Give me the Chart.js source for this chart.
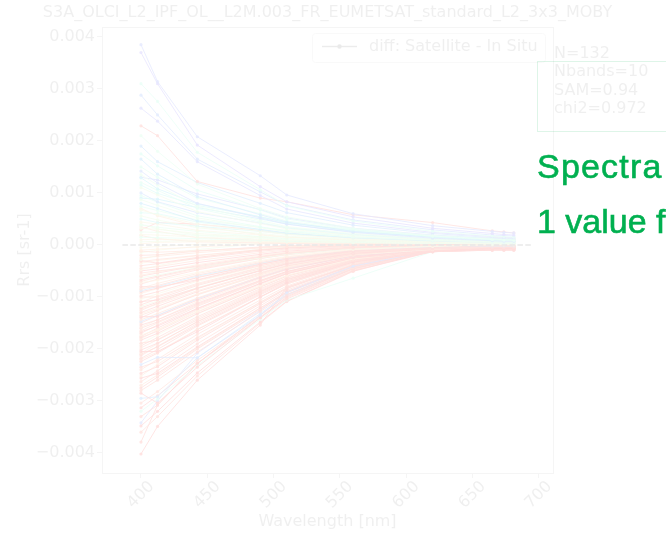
<!DOCTYPE html>
<html>
<head>
<meta charset="utf-8">
<script src="https://cdn.jsdelivr.net/npm/chart.js@4/dist/chart.umd.min.js"></script>
<style>
  html, body { margin: 0; padding: 0; background: #ffffff; }
  #wrap { position: relative; width: 666px; height: 538px; overflow: hidden; }
  /* the plot sits faded behind the slide text */
  #plot { position: absolute; left: 0; top: 0; width: 666px; height: 538px; opacity: 0.135; }
  .note { position: absolute; left: 537px; font-family: "Liberation Sans", Arial, sans-serif;
          font-size: 34px; line-height: 38px; color: #00b050; white-space: nowrap;
          -webkit-text-stroke: 0.6px #00b050; }
  #statsFrame { position: absolute; left: 537px; top: 61px; width: 160px; height: 69px;
                border: 1.5px solid rgba(0, 176, 80, 0.13); }
</style>
</head>
<body>
<div id="wrap">
  <div id="plot"><canvas id="chart"></canvas></div>
  <div id="statsFrame"></div>
  <div class="note" style="top:147px; letter-spacing:1.2px">Spectra</div>
  <div class="note" style="top:202px; letter-spacing:0px">1 value f</div>
</div>
<script>
// OLCI band centres used for the match-up spectra (nm)
const bandsNm = [400, 412.5, 442.5, 490, 510, 560, 620, 665, 673.75, 681.25];

// Satellite minus in-situ Rrs, in units of 1e-4 sr-1, spectra that start above zero
const rrsDiffHigh = [
  [38.5, 31.4, 20.8, 13.3, 9.6, 6.0, 3.7, 2.6, 2.4, 2.3],
  [37.0, 31.0, 19.2, 11.2, 8.3, 5.4, 3.2, 2.2, 2.0, 1.9],
  [31.0, 27.6, 17.8, 10.6, 7.5, 4.6, 2.6, 1.7, 1.6, 1.5],
  [28.8, 25.0, 16.5, 10.2, 7.6, 4.8, 2.9, 1.9, 1.8, 1.7],
  [26.3, 23.8, 16.0, 9.5, 6.9, 4.2, 2.4, 1.6, 1.5, 1.4],
  [22.9, 21.0, 12.2, 9.0, 8.3, 5.8, 4.3, 2.7, 2.5, 2.3],
  [21.0, 18.0, 11.7, 7.0, 5.4, 3.2, 1.8, 1.1, 1.0, 0.9],
  [19.0, 16.0, 12.0, 8.0, 6.2, 3.8, 2.2, 1.4, 1.3, 1.2],
  [17.5, 15.2, 10.5, 6.7, 5.0, 3.0, 1.6, 1.0, 0.9, 0.9],
  [16.5, 13.6, 9.3, 5.8, 4.4, 2.6, 1.5, 0.9, 0.9, 0.8],
  [15.0, 13.0, 9.0, 6.0, 4.6, 2.8, 1.6, 1.0, 0.9, 0.9],
  [14.2, 11.9, 8.0, 5.2, 4.0, 2.4, 1.3, 0.8, 0.7, 0.7],
  [13.5, 11.5, 7.4, 4.7, 3.5, 2.2, 1.2, 0.8, 0.7, 0.7],
  [12.9, 10.8, 7.9, 5.4, 4.3, 2.7, 1.5, 0.9, 0.9, 0.8],
  [12.0, 10.5, 7.0, 4.4, 3.3, 2.0, 1.1, 0.7, 0.6, 0.6],
  [11.0, 9.6, 6.4, 4.1, 3.1, 1.8, 1.0, 0.6, 0.6, 0.5],
  [10.0, 8.3, 6.2, 4.2, 3.3, 2.0, 1.1, 0.7, 0.6, 0.6],
  [9.5, 8.2, 5.6, 3.5, 2.6, 1.6, 0.9, 0.6, 0.5, 0.5],
  [8.7, 7.6, 5.2, 3.3, 2.5, 1.5, 0.9, 0.5, 0.5, 0.5],
  [8.0, 7.0, 4.6, 3.0, 2.3, 1.4, 0.8, 0.5, 0.5, 0.4],
  [7.4, 6.6, 4.8, 3.4, 2.8, 1.8, 1.1, 0.7, 0.6, 0.6],
  [6.7, 5.8, 4.0, 2.6, 2.0, 1.2, 0.7, 0.4, 0.4, 0.4],
  [6.2, 6.0, 4.4, 2.9, 2.2, 1.3, 0.7, 0.4, 0.4, 0.4],
  [5.6, 4.8, 3.3, 2.2, 1.7, 1.0, 0.6, 0.4, 0.3, 0.3],
  [5.0, 4.3, 3.6, 2.6, 2.1, 1.4, 0.8, 0.5, 0.5, 0.4],
  [4.4, 4.0, 2.8, 1.9, 1.5, 0.9, 0.5, 0.3, 0.3, 0.3],
  [3.8, 3.4, 2.6, 1.6, 1.2, 0.8, 0.5, 0.3, 0.3, 0.3],
  [3.2, 3.0, 2.2, 1.5, 1.2, 0.7, 0.4, 0.3, 0.2, 0.2],
  [2.9, 4.3, 4.0, 2.8, 2.2, 1.3, 0.7, 0.4, 0.4, 0.4],
  [2.5, 2.4, 1.8, 1.3, 1.0, 0.6, 0.4, 0.2, 0.2, 0.2],
  [2.0, 1.9, 1.5, 1.1, 0.9, 0.6, 0.4, 0.3, 0.3, 0.3],
  [1.5, 1.4, 1.2, 0.9, 0.7, 0.5, 0.3, 0.2, 0.2, 0.2],
  [1.0, 1.1, 0.9, 0.8, 0.7, 0.5, 0.4, 0.3, 0.3, 0.3],
  [0.6, 0.7, 0.8, 0.7, 0.6, 0.4, 0.3, 0.2, 0.2, 0.2],
  [0.2, 0.5, 0.6, 0.6, 0.5, 0.4, 0.3, 0.2, 0.2, 0.2],
  [9.0, 8.8, 7.2, 5.0, 4.0, 2.5, 1.5, 1.0, 0.9, 0.9],
  [11.5, 9.9, 7.6, 5.4, 4.2, 2.9, 1.8, 1.2, 1.1, 1.0],
  [13.0, 12.5, 9.8, 6.8, 5.2, 3.2, 1.9, 1.2, 1.1, 1.0],
  [4.0, 3.1, 1.9, 1.6, 1.5, 1.1, 0.8, 0.6, 0.5, 0.5],
  [7.0, 5.6, 3.6, 2.0, 1.5, 0.9, 0.6, 0.4, 0.4, 0.4],
  [3.5, 2.6, 1.4, 0.9, 0.7, 0.5, 0.4, 0.3, 0.3, 0.3],
  [1.8, 1.2, 0.6, 0.4, 0.3, 0.3, 0.3, 0.2, 0.2, 0.2]
];

// Satellite minus in-situ Rrs, in units of 1e-4 sr-1, spectra that start below zero
const rrsDiffLow = [
  [-0.5, -0.3, 0.1, 0.4, 0.5, 0.5, 0.9, 1.2, 1.2, 1.1],
  [-1.0, -0.8, -0.4, 0.2, 0.3, 0.4, 0.8, 1.0, 1.0, 1.0],
  [-1.2, -1.4, -1.1, -0.5, -0.2, 0.1, 0.5, 0.6, 0.6, 0.6],
  [-1.5, -1.0, -0.3, 1.6, 0.7, 0.6, 1.2, 1.4, 1.4, 1.3],
  [-2.0, -1.9, -1.2, -0.4, -0.1, 0.2, 0.6, 0.8, 0.8, 0.7],
  [-2.5, -2.2, -1.5, -0.6, -0.3, 0.1, 0.7, 0.9, 0.9, 0.9],
  [-2.8, -2.0, -0.9, 0.3, 0.5, 0.6, 1.0, 1.1, 1.1, 1.0],
  [-3.0, -3.5, -2.4, -1.0, -0.6, -0.1, 0.4, 0.5, 0.5, 0.5],
  [-3.2, -2.8, -2.0, -0.9, -0.5, 0.0, 0.6, 0.8, 0.8, 0.8],
  [-3.5, -3.0, -2.1, -1.0, -0.6, -0.1, 0.3, 0.6, 0.6, 0.6],
  [-4.0, -3.6, -2.6, -1.2, -0.8, -0.2, 0.5, 0.9, 0.9, 0.9],
  [-4.5, -4.2, -3.0, -1.5, -1.0, -0.3, 0.2, 0.4, 0.4, 0.4],
  [-4.8, -4.0, -2.5, -0.8, -0.4, 0.2, 0.9, 1.3, 1.3, 1.2],
  [-5.0, -4.6, -3.4, -1.8, -1.2, -0.4, 0.1, 0.3, 0.3, 0.3],
  [-5.4, -5.0, -4.2, -2.3, -1.6, -0.6, -0.1, 0.2, 0.2, 0.2],
  [-5.8, -5.2, -3.8, -2.0, -1.4, -0.5, 0.3, 0.7, 0.7, 0.7],
  [-6.0, -5.4, -4.0, -2.2, -1.5, -0.5, 0.4, 1.0, 1.0, 1.0],
  [-6.3, -5.8, -4.3, -2.5, -1.8, -0.7, -0.2, 0.1, 0.1, 0.1],
  [-6.7, -6.0, -4.4, -2.4, -1.7, -0.6, 0.2, 0.6, 0.6, 0.6],
  [-7.0, -6.2, -4.6, -2.6, -1.9, -0.7, 0.0, 0.4, 0.4, 0.4],
  [-7.2, -6.8, -5.3, -3.0, -2.2, -0.9, -0.3, 0.0, 0.0, 0.0],
  [-7.5, -6.6, -4.8, -2.6, -1.8, -0.6, 0.3, 0.8, 0.8, 0.8],
  [-8.0, -8.1, -6.7, -3.8, -2.7, -1.1, -0.5, -0.1, -0.1, -0.1],
  [-8.3, -7.4, -5.5, -3.2, -2.3, -0.9, -0.1, 0.3, 0.3, 0.3],
  [-8.5, -7.8, -5.8, -3.4, -2.5, -1.0, 0.1, 0.6, 0.6, 0.6],
  [-8.8, -8.0, -6.0, -3.5, -2.6, -1.0, -0.4, -0.2, -0.2, -0.2],
  [-9.0, -8.3, -6.3, -3.7, -2.8, -1.2, -0.2, 0.2, 0.2, 0.2],
  [-9.3, -8.4, -6.2, -3.6, -2.6, -1.1, 0.0, 0.5, 0.5, 0.5],
  [-9.8, -9.0, -6.8, -4.0, -3.0, -1.3, -0.6, -0.3, -0.3, -0.3],
  [-10.0, -10.0, -7.6, -4.4, -3.2, -1.4, -0.3, 0.1, 0.1, 0.1],
  [-10.4, -9.4, -7.0, -4.1, -3.0, -1.3, 0.2, 0.7, 0.7, 0.7],
  [-10.9, -10.6, -8.3, -4.9, -3.6, -1.6, -0.8, -0.5, -0.5, -0.5],
  [-11.0, -9.8, -7.4, -4.3, -3.1, -1.3, -0.1, 0.4, 0.4, 0.4],
  [-11.5, -10.4, -7.8, -4.6, -3.4, -1.5, -0.5, -0.1, -0.1, -0.1],
  [-11.8, -10.8, -8.2, -4.8, -3.5, -1.5, 0.1, 0.8, 0.8, 0.8],
  [-12.1, -11.0, -8.3, -5.0, -3.7, -1.6, -0.4, 0.2, 0.2, 0.2],
  [-12.3, -11.4, -8.8, -5.3, -3.9, -1.7, -0.7, -0.3, -0.3, -0.3],
  [-12.6, -11.2, -8.4, -4.9, -3.6, -1.5, 0.0, 0.6, 0.6, 0.6],
  [-13.0, -11.8, -9.0, -5.4, -4.0, -1.8, -0.6, 0.0, 0.0, 0.0],
  [-13.2, -12.2, -9.4, -5.7, -4.2, -1.9, -0.9, -0.4, -0.4, -0.4],
  [-13.5, -12.4, -9.6, -5.8, -4.3, -2.0, -0.5, 0.1, 0.1, 0.1],
  [-13.8, -13.8, -10.6, -6.3, -4.7, -2.1, -1.0, -0.6, -0.6, -0.6],
  [-14.0, -12.6, -9.5, -5.6, -4.1, -1.8, -0.3, 0.3, 0.3, 0.3],
  [-14.4, -13.2, -10.2, -6.1, -4.5, -2.0, -0.7, -0.2, -0.2, -0.2],
  [-14.7, -13.5, -10.4, -6.2, -4.6, -2.1, -0.8, -0.3, -0.3, -0.3],
  [-15.0, -13.6, -10.3, -6.1, -4.5, -2.0, -0.4, 0.2, 0.2, 0.2],
  [-15.4, -14.4, -11.2, -6.8, -5.1, -2.3, -1.1, -0.6, -0.6, -0.6],
  [-15.8, -14.4, -10.9, -6.5, -4.8, -2.1, -0.2, 0.5, 0.5, 0.5],
  [-16.0, -14.8, -11.4, -6.9, -5.1, -2.3, -0.9, -0.3, -0.3, -0.3],
  [-16.5, -15.0, -11.6, -7.0, -5.2, -2.4, -0.6, 0.0, 0.0, 0.0],
  [-16.7, -15.6, -12.2, -7.4, -5.5, -2.5, -1.2, -0.8, -0.8, -0.8],
  [-17.0, -15.4, -11.8, -7.1, -5.3, -2.4, -0.5, 0.2, 0.2, 0.2],
  [-17.3, -16.3, -12.8, -7.9, -5.9, -2.7, -1.0, -0.4, -0.4, -0.4],
  [-17.6, -16.0, -12.3, -7.4, -5.5, -2.5, -0.6, 0.1, 0.1, 0.1],
  [-17.8, -16.6, -12.9, -7.9, -5.9, -2.7, -1.1, -0.5, -0.5, -0.5],
  [-18.0, -16.4, -12.5, -7.6, -5.6, -2.6, -0.3, 0.4, 0.4, 0.4],
  [-18.3, -17.0, -13.2, -8.1, -6.0, -2.8, -1.2, -0.7, -0.7, -0.7],
  [-18.9, -18.3, -14.4, -8.8, -6.6, -3.0, -1.3, -0.9, -0.9, -0.9],
  [-19.0, -17.3, -13.3, -8.1, -6.0, -2.8, -0.7, 0.0, 0.0, 0.0],
  [-19.4, -17.8, -13.8, -8.4, -6.3, -2.9, -0.9, -0.2, -0.2, -0.2],
  [-19.8, -18.2, -14.1, -8.6, -6.4, -3.0, -0.5, 0.3, 0.3, 0.3],
  [-20.2, -18.9, -14.8, -9.0, -6.7, -3.1, -1.1, -0.5, -0.5, -0.5],
  [-20.5, -20.5, -16.7, -10.0, -7.3, -3.3, -1.3, -1.0, -1.0, -1.0],
  [-20.8, -19.0, -14.7, -9.0, -6.7, -3.1, -0.6, 0.2, 0.2, 0.2],
  [-21.0, -19.6, -15.4, -9.4, -7.0, -3.2, -1.0, -0.3, -0.3, -0.3],
  [-21.3, -19.5, -15.1, -9.2, -6.9, -3.2, -0.4, 0.4, 0.4, 0.4],
  [-21.8, -20.1, -15.6, -9.6, -7.2, -3.3, -1.1, -0.6, -0.6, -0.6],
  [-22.0, -20.6, -16.2, -10.0, -7.5, -3.5, -0.8, -0.1, -0.1, -0.1],
  [-22.4, -20.8, -16.3, -10.0, -7.5, -3.5, -1.2, -0.7, -0.7, -0.7],
  [-23.0, -21.6, -21.7, -13.5, -9.2, -4.1, -1.0, -0.2, -0.2, -0.2],
  [-23.5, -22.4, -17.8, -11.0, -8.2, -3.8, -0.9, -0.1, -0.1, -0.1],
  [-24.0, -22.0, -17.2, -10.6, -7.9, -3.7, -0.5, 0.3, 0.3, 0.3],
  [-24.7, -23.4, -18.3, -11.3, -8.4, -3.9, -1.3, -0.8, -0.8, -0.8],
  [-25.2, -23.0, -18.0, -11.1, -8.3, -3.9, -0.7, 0.1, 0.1, 0.1],
  [-25.6, -24.7, -19.6, -12.1, -9.0, -4.2, -1.2, -0.6, -0.6, -0.6],
  [-26.3, -24.2, -19.0, -11.7, -8.7, -4.1, -0.6, 0.2, 0.2, 0.2],
  [-27.0, -25.0, -19.8, -12.2, -9.1, -4.3, -1.0, -0.3, -0.3, -0.3],
  [-27.5, -25.4, -20.0, -12.4, -9.2, -4.3, -0.8, 0.0, 0.0, 0.0],
  [-28.0, -26.0, -20.6, -12.8, -9.5, -4.5, -1.1, -0.4, -0.4, -0.4],
  [-28.5, -30.4, -23.5, -14.0, -10.0, -4.6, -1.3, -0.9, -0.9, -0.9],
  [-29.5, -29.2, -21.7, -13.2, -9.6, -4.4, -0.9, -0.2, -0.2, -0.2],
  [-30.4, -28.2, -22.2, -13.8, -10.2, -4.8, -0.7, 0.2, 0.2, 0.2],
  [-31.3, -29.0, -22.8, -14.0, -10.4, -4.9, -1.2, -0.5, -0.5, -0.5],
  [-32.0, -29.6, -23.2, -14.3, -10.6, -6.4, -1.3, -0.6, -0.6, -0.6],
  [-33.0, -30.8, -22.8, -13.5, -9.8, -4.6, -0.8, 0.0, 0.0, 0.0],
  [-34.2, -30.0, -20.8, -12.6, -9.0, -4.0, -0.6, 0.3, 0.3, 0.3],
  [-34.8, -32.0, -24.6, -14.8, -10.8, -5.0, -1.3, -1.0, -1.0, -1.0],
  [-36.0, -33.0, -25.2, -15.0, -10.9, -5.1, -1.0, -0.3, -0.3, -0.3],
  [-37.9, -30.8, -22.8, -13.5, -9.6, -4.5, -0.9, -0.1, -0.1, -0.1],
  [-40.2, -34.9, -26.0, -15.4, -8.1, -4.0, -1.3, -0.7, -0.7, -0.7]
];

// Position of each spectrum on the rainbow colour scale (0 = violet, 1 = red)
const toneHigh = [0.12, 0.08, 0.45, 0.15, 0.10, 0.95, 0.50, 0.18, 0.42, 0.20,
                  0.48, 0.14, 0.55, 0.30, 0.46, 0.62, 0.16, 0.44, 0.58, 0.22,
                  0.50, 0.66, 0.40, 0.60, 0.34, 0.70, 0.52, 0.64, 0.96, 0.56,
                  0.68, 0.47, 0.72, 0.63, 0.74, 0.26, 0.38, 0.12, 0.60, 0.78,
                  0.82, 0.86];
const toneLow = [0.70, 0.78, 0.88, 0.66, 0.92, 0.84, 0.62, 0.97, 0.90, 0.76,
                 0.94, 0.86, 0.70, 0.99, 0.90, 0.80, 0.95, 0.60, 0.98, 0.88,
                 0.74, 0.93, 0.96, 0.85, 0.91, 0.20, 0.99, 0.82, 0.94, 0.90,
                 0.72, 0.97, 0.87, 0.93, 0.65, 0.98, 0.84, 0.91, 0.96, 0.78,
                 0.89, 0.99, 0.94, 0.86, 0.16, 0.92, 0.97, 0.81, 0.95, 0.88,
                 0.99, 0.93, 0.76, 0.96, 0.90, 0.84, 0.98, 0.94, 0.70, 0.92,
                 0.87, 0.97, 0.99, 0.82, 0.95, 0.90, 0.93, 0.86, 0.98, 0.15,
                 0.94, 0.89, 0.97, 0.80, 0.99, 0.92, 0.85, 0.96, 0.93, 0.98,
                 0.18, 0.90, 0.97, 0.45, 0.95, 0.13, 0.99, 0.92, 0.96, 0.98];

const xTickValues = [400, 450, 500, 550, 600, 650, 700];
const yTickValues = [-0.004, -0.003, -0.002, -0.001, 0, 0.001, 0.002, 0.003, 0.004];
const zeroLineNm = [386, 695.3];
const statsLines = ['N=132', 'Nbands=10', 'SAM=0.94', 'chi2=0.972'];
const plotTitle = 'S3A_OLCI_L2_IPF_OL__L2M.003_FR_EUMETSAT_standard_L2_3x3_MOBY';
const legendLabel = 'diff: Satellite - In Situ';

const RRS_UNIT = 1e-4;           // stored values are in 1e-4 sr-1
const FONT = 'DejaVu Sans';
const INK = '#8e8e8e';           // text colour before the plot layer is faded
const FRAME = '#bcbcbc';

// matplotlib "rainbow" colormap
function rainbow(t, a) {
  const cl = v => Math.max(0, Math.min(1, v));
  const r = cl(Math.abs(2 * t - 0.5)), g = cl(Math.sin(Math.PI * t)), b = cl(Math.cos(Math.PI * t / 2));
  return `rgba(${Math.round(r * 255)},${Math.round(g * 255)},${Math.round(b * 255)},${a})`;
}

function spectrumDataset(values, tone) {
  const col = rainbow(tone, 0.8);
  return {
    data: bandsNm.map((nm, i) => ({ x: nm, y: values[i] * RRS_UNIT })),
    borderColor: col, backgroundColor: col, borderWidth: 1,
    pointRadius: 1.6, pointBorderWidth: 0, pointBackgroundColor: col,
    tension: 0, order: 1
  };
}

const datasets = [
  {
    data: zeroLineNm.map(nm => ({ x: nm, y: 0 })),
    borderColor: '#5a5a5a', borderWidth: 1.5, borderDash: [5.5, 2.4],
    pointRadius: 0, order: 0
  },
  ...rrsDiffHigh.map((s, i) => spectrumDataset(s, toneHigh[i])),
  ...rrsDiffLow.map((s, i) => spectrumDataset(s, toneLow[i]))
];

const fmtY = v => (v < -1e-9 ? '\u2212' : '') + Math.abs(v).toFixed(3);

// Frame, rotated wavelength labels, legend, statistics and title
const decorations = {
  id: 'decorations',
  afterDraw(chart) {
    const { ctx, chartArea: ca, scales } = chart;
    ctx.save();
    ctx.strokeStyle = FRAME;
    ctx.lineWidth = 1;
    ctx.strokeRect(Math.round(ca.left) + 0.5, Math.round(ca.top) + 0.5,
                   Math.round(ca.right - ca.left), Math.round(ca.bottom - ca.top));

    ctx.fillStyle = INK;
    ctx.font = `16px "${FONT}"`;
    ctx.textAlign = 'center';
    ctx.textBaseline = 'middle';
    xTickValues.forEach(v => {
      const px = scales.x.getPixelForValue(v);
      ctx.save();
      ctx.translate(px, ca.bottom + 22);
      ctx.rotate(-Math.PI / 4);
      ctx.fillText(String(v), 0, 0);
      ctx.restore();
    });
    ctx.fillText('Wavelength [nm]', (ca.left + ca.right) / 2, ca.bottom + 49);

    // title
    ctx.fillText(plotTitle, (ca.left + ca.right) / 2, 13);

    // legend
    const lx = 312.5, ly = 33.5, lw = 233, lh = 29;
    ctx.fillStyle = 'rgba(255,255,255,0.8)';
    ctx.strokeStyle = '#d4d4d4';
    ctx.beginPath();
    ctx.roundRect(lx, ly, lw, lh, 3);
    ctx.fill();
    ctx.stroke();
    ctx.strokeStyle = '#7a7a7a';
    ctx.lineWidth = 1.5;
    ctx.beginPath();
    ctx.moveTo(322, 46.5); ctx.lineTo(357, 46.5);
    ctx.stroke();
    ctx.fillStyle = '#6a6a6a';
    ctx.beginPath();
    ctx.arc(339.5, 46.5, 2.2, 0, Math.PI * 2);
    ctx.fill();
    ctx.fillStyle = INK;
    ctx.textAlign = 'left';
    ctx.fillText(legendLabel, 369, 47);

    // statistics
    statsLines.forEach((t, i) => ctx.fillText(t, 554, 54 + i * 18.3));
    ctx.restore();
  }
};

Chart.defaults.font.family = FONT;

new Chart(document.getElementById('chart'), {
  type: 'line',
  data: { datasets },
  options: {
    responsive: true,
    maintainAspectRatio: false,
    animation: false,
    devicePixelRatio: 1,
    parsing: false,
    normalized: true,
    layout: { padding: { top: 27, right: 113, left: 0, bottom: 0 } },
    plugins: { legend: { display: false }, tooltip: { enabled: false }, title: { display: false } },
    scales: {
      x: {
        type: 'linear', min: 370.6, max: 710.8,
        afterBuildTicks: s => { s.ticks = xTickValues.map(v => ({ value: v })); },
        afterFit: s => { s.height = 65; },
        ticks: { display: false },
        grid: { drawOnChartArea: false, drawTicks: true, tickLength: 5, color: FRAME, lineWidth: 1 },
        border: { display: false }
      },
      y: {
        type: 'linear', min: -0.004385, max: 0.00419,
        afterBuildTicks: s => { s.ticks = yTickValues.map(v => ({ value: v })); },
        afterFit: s => { s.width = 102; },
        ticks: { color: INK, font: { family: FONT, size: 16 }, padding: 2, callback: v => fmtY(v) },
        grid: { drawOnChartArea: false, drawTicks: true, tickLength: 5, color: FRAME, lineWidth: 1 },
        border: { display: false },
        title: { display: true, text: 'Rrs [sr-1]', color: INK, font: { family: FONT, size: 16 }, padding: { top: 15, bottom: 0 } }
      }
    }
  },
  plugins: [decorations]
});
</script>
</body>
</html>
